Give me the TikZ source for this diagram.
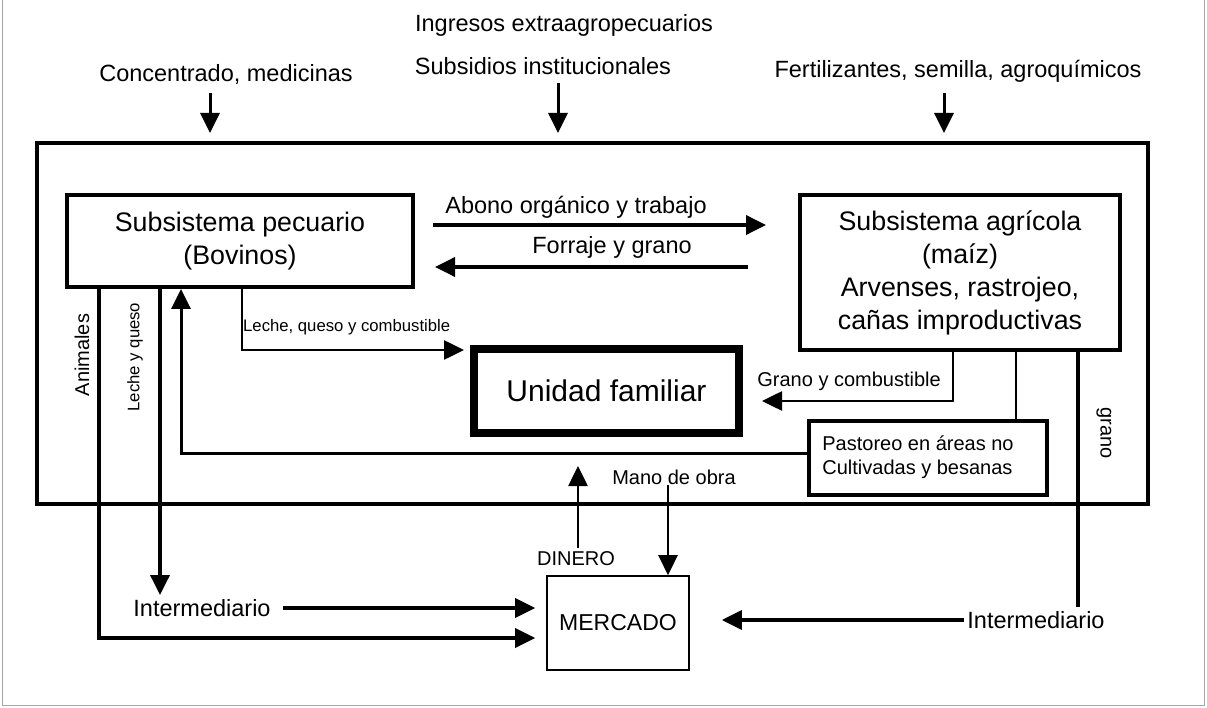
\documentclass[tikz,border=0pt]{standalone}
\usepackage{fontspec}
\setmainfont{Liberation Sans}
\usetikzlibrary{arrows.meta,calc}
\begin{document}
\begin{tikzpicture}[x=1pt,y=-1pt,
  big/.style={font=\fontsize{23.5pt}{28pt}\selectfont},
  ttl/.style={font=\fontsize{26.8pt}{33pt}\selectfont},
  med/.style={font=\fontsize{20pt}{24pt}\selectfont},
  sml/.style={font=\fontsize{16.7pt}{20pt}\selectfont},
  box/.style={draw,line width=4pt,align=center,inner sep=0pt},
  conn/.style={line width=3.6pt},
  thin/.style={line width=2.6pt},
  arr/.style={-{Triangle[length=20pt,width=19pt]}},
  frame/.style={draw=gray!70,line width=1pt}
]
\useasboundingbox (0,0) rectangle (1207,708);
\draw[frame] (2,0) -- (2,705) -- (1204,705) -- (1204,0);

% outer system
\node[draw,line width=4pt,minimum width=1111pt,minimum height=361pt,inner sep=0pt] (sys) at (592.5,323.5) {};

% top texts
\node[big] (ing) at (564,25) {Ingresos extraagropecuarios};
\node[big] (sub) at (543,66) {Subsidios institucionales};
\node[big] (conc) at (226,74) {Concentrado, medicinas};
\node[big] (fert) at (958,71) {Fertilizantes, semilla, agroquímicos};
\coordinate (a1s) at (210,93);  \coordinate (a1e) at (210,133);
\coordinate (a2s) at (558,83);  \coordinate (a2e) at (558,133);
\coordinate (a3s) at (944,93);  \coordinate (a3e) at (944,133);
\draw[thin,line width=3pt,arr] (a1s) -- (a1e);
\draw[thin,line width=3pt,arr] (a2s) -- (a2e);
\draw[thin,line width=3pt,arr] (a3s) -- (a3e);

% boxes
\node[box,ttl,minimum width=346pt,minimum height=92pt] (pec) at (240,241) {Subsistema pecuario\\(Bovinos)};
\node[box,ttl,minimum width=320pt,minimum height=155pt] (agr) at (960,272.5) {Subsistema agrícola\\(maíz)\\Arvenses, rastrojeo,\\cañas improductivas};
\node[draw,line width=8pt,minimum width=265pt,minimum height=84pt,inner sep=0pt,font=\fontsize{30pt}{36pt}\selectfont] (uf) at (606.5,391) {Unidad familiar};
\node[box,med,align=left,minimum width=238pt,minimum height=74pt] (past) at (928,458) {\raisebox{3pt}{\begin{tabular}{@{}l@{}}Pastoreo en áreas no\\Cultivadas y besanas\end{tabular}}\hspace*{20pt}};
\node[draw,line width=1.6pt,minimum width=142pt,minimum height=94pt,inner sep=0pt,font=\fontsize{23pt}{28pt}\selectfont] (merc) at (618,623) {\raisebox{-7pt}{MERCADO}};

% pecuario <-> agricola
\node[big] (abl) at (576,207) {Abono orgánico y trabajo};
\node[big] (fol) at (612,247) {Forraje y grano};
\draw[conn,arr] ($(pec.east)+(18,-16)$) -- ($(agr.west)+(-32,-47.5)$);
\draw[conn,arr] ($(agr.west)+(-50,-5.5)$) -- ($(pec.east)+(20,26)$);

% leche, queso y combustible
\coordinate (lqc) at (242,350);
\node[sml,anchor=west,inner sep=1pt] (lqcl) at (242,327) {Leche, queso y combustible};
\draw[thin,arr,shorten >=6pt] (pec.south -| lqc) -- (lqc) -- (uf.west |- lqc);

% grano y combustible
\coordinate (gyc) at (953,401);
\node[med,anchor=east,inner sep=1pt] (gycl) at (942,381) {Grano y combustible};
\draw[thin,arr] (agr.south -| gyc) -- (gyc) -- ($(uf.east |- gyc)+(19,0)$);

% agricola -> pastoreo
\coordinate (pl) at (1016,400);
\draw[thin] (agr.south -| pl) -- (past.north -| pl);

% pastoreo -> pecuario
\coordinate (ret) at (181,453);
\draw[thin,line width=3pt,arr] (past.west |- ret) -- (ret) -- (pec.south -| ret);

% animales
\coordinate (an) at (99,638);
\node[med,rotate=90] (anl) at (82,355) {Animales};
\draw[conn,arr,shorten >=11pt] (pec.south -| an) -- (an) -- (merc.west |- an);

% leche y queso
\coordinate (lyq) at (160,595);
\node[sml,rotate=90] (lyql) at (135,357) {Leche y queso};
\draw[conn,arr] (pec.south -| lyq) -- (lyq);

% intermediario left
\node[big] (intl) at (202,608) {Intermediario};
\draw[conn,arr,shorten <=9pt,shorten >=11pt] (intl.east) -- (merc.west |- intl);

% grano / intermediario right
\coordinate (gl) at (1078,607);
\node[med,rotate=-90] (grl) at (1104,433) {grano};
\draw[conn] (agr.south -| gl) -- (gl);
\node[big] (intr) at (1036,620) {Intermediario};
\draw[conn,arr,shorten >=32pt] (intr.west) -- (merc.east |- intr);

% dinero / mano de obra
\node[med] (din) at (576,559) {DINERO};
\coordinate (dtip) at (578,466);
\draw[thin,arr] (din.north -| dtip) -- (dtip);
\node[med] (mano) at (674,477) {Mano de obra};
\coordinate (mx) at (668,485);
\draw[thin,arr] (mx) -- (merc.north -| mx);
\end{tikzpicture}
\end{document}
